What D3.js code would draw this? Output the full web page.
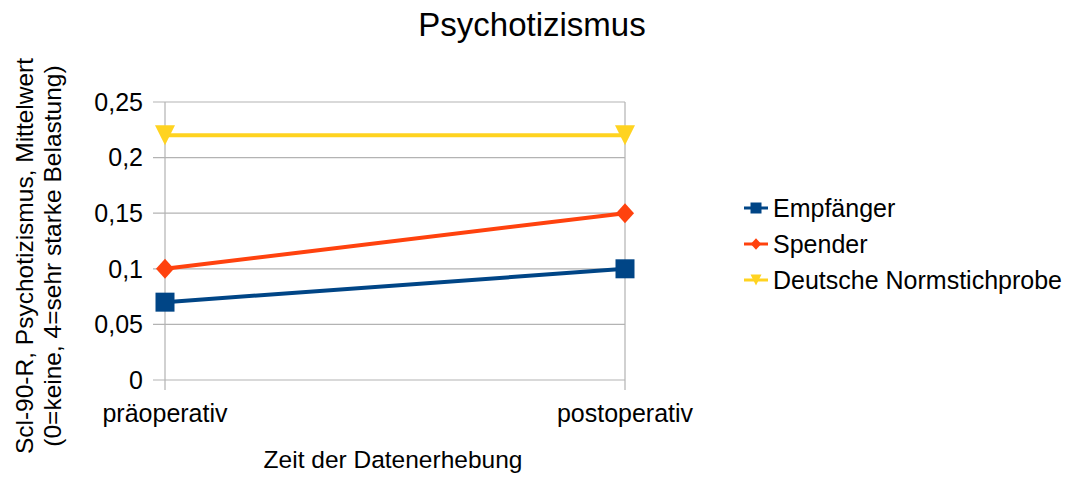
<!DOCTYPE html>
<html>
<head>
<meta charset="utf-8">
<script src="https://cdn.jsdelivr.net/npm/d3@7"></script>
<style>
  body { margin: 0; background: #fff; }
  text { font-family: "Liberation Sans", Arial, sans-serif; fill: #000; }
</style>
</head>
<body>
<svg id="chart" width="1079" height="477"></svg>
<script>
// data
var categories = ["präoperativ", "postoperativ"];
var seriesNames = ["Empfänger", "Spender", "Deutsche Normstichprobe"];
var empfaenger = [0.07, 0.1];
var spender = [0.1, 0.15];
var normstichprobe = [0.22, 0.22];
var yTicks = [0, 0.05, 0.1, 0.15, 0.2, 0.25];
var yTickLabels = ["0", "0,05", "0,1", "0,15", "0,2", "0,25"];

var colors = ["#004586", "#ff420e", "#ffd320"];

// custom marker shapes, size = full width in px
var square = {draw: function(c, s){ var r = s/2; c.rect(-r, -r, s, s); }};
var diamond = {draw: function(c, s){ var r = s/2; c.moveTo(0,-r*1.05); c.lineTo(r*0.95,0); c.lineTo(0,r*1.05); c.lineTo(-r*0.95,0); c.closePath(); }};
var triDown = {draw: function(c, s){ var r = s/2; c.moveTo(-r,-r); c.lineTo(r,-r); c.lineTo(0,r); c.closePath(); }};
var symbols = [square, diamond, triDown];

var svg = d3.select("svg#chart");
var plot = {left: 165, right: 625, top: 102, bottom: 380};

var x = d3.scalePoint()
    .domain(categories)
    .range([plot.left, plot.right]);
var y = d3.scaleLinear()
    .domain([0, 0.25])
    .range([plot.bottom, plot.top]);

// gridlines + y ticks
var g = svg.append("g");
g.selectAll("line.grid")
  .data(yTicks)
  .enter().append("line")
  .attr("class", "grid")
  .attr("x1", plot.left - 12)
  .attr("x2", plot.right)
  .attr("y1", d => y(d))
  .attr("y2", d => y(d))
  .attr("stroke", "#b3b3b3")
  .attr("stroke-width", 1.2);

g.selectAll("text.ytick")
  .data(yTicks)
  .enter().append("text")
  .attr("class", "ytick")
  .attr("x", 143)
  .attr("y", d => y(d))
  .attr("dy", "0.35em")
  .attr("text-anchor", "end")
  .attr("font-size", "25px")
  .text((d, i) => yTickLabels[i]);

// vertical lines at categories (axis + border)
g.selectAll("line.vgrid")
  .data(categories)
  .enter().append("line")
  .attr("class", "vgrid")
  .attr("x1", d => x(d))
  .attr("x2", d => x(d))
  .attr("y1", plot.top)
  .attr("y2", plot.bottom + 10)
  .attr("stroke", "#b3b3b3")
  .attr("stroke-width", 1.2);

g.selectAll("text.xtick")
  .data(categories)
  .enter().append("text")
  .attr("class", "xtick")
  .attr("x", d => x(d))
  .attr("y", 422)
  .attr("text-anchor", "middle")
  .attr("font-size", "25px")
  .text(d => d);

// series
var series = [empfaenger, spender, normstichprobe];
var line = d3.line()
  .x((d, i) => x(categories[i]))
  .y(d => y(d));

series.forEach(function(vals, s) {
  svg.append("path")
    .datum(vals)
    .attr("d", line)
    .attr("fill", "none")
    .attr("stroke", colors[s])
    .attr("stroke-width", 4);
});

var sizes = [19, 19, 20];
series.forEach(function(vals, s) {
  svg.selectAll("path.m" + s)
    .data(vals)
    .enter().append("path")
    .attr("class", "m" + s)
    .attr("d", d3.symbol().type(symbols[s]).size(sizes[s]))
    .attr("transform", (d, i) => `translate(${x(categories[i])},${y(d)})`)
    .attr("fill", colors[s]);
});

// title
svg.append("text")
  .attr("x", 532)
  .attr("y", 36)
  .attr("text-anchor", "middle")
  .attr("font-size", "33px")
  .text("Psychotizismus");

// axis titles
svg.append("text")
  .attr("x", 393)
  .attr("y", 468)
  .attr("text-anchor", "middle")
  .attr("font-size", "24.5px")
  .text("Zeit der Datenerhebung");

var yt = svg.append("text")
  .attr("transform", "translate(0,256) rotate(-90)")
  .attr("text-anchor", "middle")
  .attr("font-size", "24.5px");
yt.append("tspan").attr("x", 0).attr("y", 33).text("Scl-90-R, Psychotizismus, Mittelwert");
yt.append("tspan").attr("x", 0).attr("y", 61).text("(0=keine, 4=sehr starke Belastung)");

// legend
var legend = svg.append("g");
var ly = d3.scalePoint().domain(seriesNames).range([208, 280]);
seriesNames.forEach(function(name, s) {
  var yy = ly(name);
  legend.append("line")
    .attr("x1", 744).attr("x2", 768)
    .attr("y1", yy).attr("y2", yy)
    .attr("stroke", colors[s])
    .attr("stroke-width", 3);
  legend.append("path")
    .attr("d", d3.symbol().type(symbols[s]).size(11))
    .attr("transform", `translate(756,${yy})`)
    .attr("fill", colors[s]);
  legend.append("text")
    .attr("x", 773)
    .attr("y", yy)
    .attr("dy", "0.35em")
    .attr("font-size", "25px")
    .text(name);
});
</script>
</body>
</html>
